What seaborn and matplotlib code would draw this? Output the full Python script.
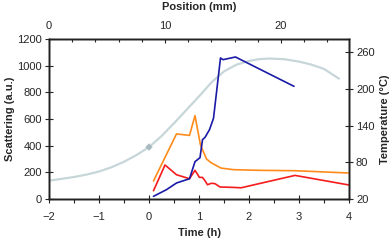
import matplotlib
matplotlib.use("Agg")
import matplotlib.pyplot as plt
import seaborn as sns
from matplotlib.ticker import MultipleLocator

# scattering series (left axis), time in hours
orange_t = [0.09, 0.55, 0.81, 0.92, 1.03, 1.15, 1.25, 1.44, 1.69, 2.22, 2.93, 4.0]
orange_v = [135, 488, 477, 625, 405, 300, 270, 232, 220, 215, 212, 195]

red_t = [0.09, 0.32, 0.55, 0.81, 0.92, 1.01, 1.07, 1.12, 1.17, 1.25, 1.32, 1.42, 1.69, 1.84, 2.92, 4.0]
red_v = [62, 255, 182, 152, 215, 162, 162, 137, 107, 118, 115, 90, 87, 84, 177, 105]

blue_t = [0.09, 0.35, 0.55, 0.81, 0.92, 1.02, 1.07, 1.12, 1.21, 1.29, 1.43, 1.48, 1.73, 2.9]
blue_v = [20, 70, 120, 152, 280, 310, 445, 462, 520, 605, 1058, 1045, 1065, 845]

# temperature profile (right axis)
temp_t = [-2, -1.75, -1.5, -1.25, -1, -0.75, -0.5, -0.25, 0, 0.25, 0.5, 0.75, 1,
          1.25, 1.5, 1.75, 2, 2.2, 2.4, 2.7, 3, 3.25, 3.5, 3.8]
temp_v = [50, 53, 56, 60, 65, 72, 81, 92, 105, 123, 144, 166, 188,
          211, 229, 240, 246, 249, 250, 249, 245, 240, 233, 217]
mark_t = [0]
mark_v = [105]

sns.set_style("white")
plt.rcParams["font.family"] = ["Liberation Sans", "DejaVu Sans"]
plt.rcParams["font.size"] = 8

fig = plt.figure(figsize=(3.92, 2.41), dpi=100)
ax = fig.add_axes([49 / 392, 1 - 199 / 241, 300 / 392, 160 / 241])
ax2 = ax.twinx()

gray = "#c7d6d9"
sns.lineplot(x=temp_t, y=temp_v, ax=ax2, color=gray, lw=1.6, sort=False, estimator=None)
sns.scatterplot(x=mark_t, y=mark_v, ax=ax2, color="#a9babe", marker="D", s=14,
                edgecolor="none", zorder=3)

for t, v, c in [(orange_t, orange_v, "#ff8c1a"),
                (red_t, red_v, "#f51c1c"),
                (blue_t, blue_v, "#1a1aa6")]:
    sns.lineplot(x=t, y=v, ax=ax, color=c, lw=1.2, sort=False, estimator=None)

# left axis drawn over the temperature curve
ax.set_zorder(ax2.get_zorder() + 1)
ax.patch.set_visible(False)

ax.set_xlim(-2, 4)
ax.set_ylim(0, 1200)
ax2.set_ylim(20, 282)
ax.set_yticks(range(0, 1201, 200))
ax2.set_yticks([20, 80, 140, 200, 260])
ax.xaxis.set_minor_locator(MultipleLocator(0.5))

ax.set_xlabel("Time (h)", fontweight="bold", labelpad=5)
ax.set_ylabel("Scattering (a.u.)", fontweight="bold", labelpad=2)
ax2.set_ylabel("Temperature (°C)", fontweight="bold", labelpad=4)

top = ax.twiny()
top.set_xlim(0, 25.86)
top.set_xticks([0, 10, 20])
top.xaxis.set_minor_locator(MultipleLocator(2))
top.set_xlabel("Position (mm)", fontweight="bold", labelpad=8)
top.tick_params(axis="x", which="major", direction="in", length=3, width=0.8, pad=6)
top.tick_params(axis="x", which="minor", direction="in", length=2, width=0.8)

for a in (ax, ax2, top):
    for s in a.spines.values():
        s.set_color("#222222")
        s.set_linewidth(1.0)

ax.tick_params(axis="both", which="major", direction="inout", length=6, width=0.8, pad=2)
ax.tick_params(axis="x", which="major", pad=6)
ax.tick_params(axis="x", which="minor", direction="out", length=3, width=0.8)
ax2.tick_params(axis="y", direction="inout", length=6, width=0.8, pad=2)

fig.savefig("out.png", dpi=100)
